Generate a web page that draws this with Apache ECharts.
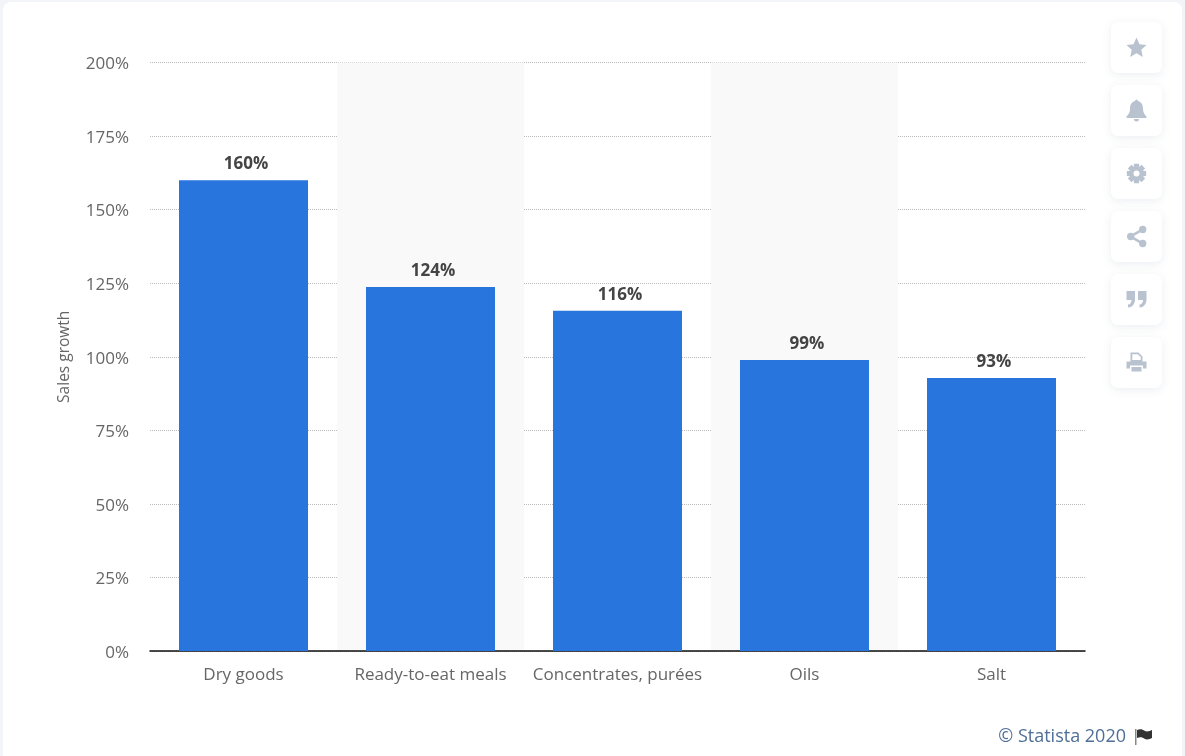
<!DOCTYPE html>
<html>
<head>
<meta charset="utf-8">
<style>
  html, body { margin: 0; padding: 0; background: #f3f4f8; }
  #card { position: absolute; left: 3px; top: 2px; width: 1179px; height: 780px; background: #fff; border-radius: 8px; }
  #main { position: absolute; left: 0; top: 0; width: 1185px; height: 756px; }
</style>
<script src="https://cdn.jsdelivr.net/npm/echarts@6/dist/echarts.min.js"></script>
</head>
<body>
<div id="card"></div>
<div id="main"></div>
<script>
const categories = ["Dry goods", "Ready-to-eat meals", "Concentrates, purées", "Oils", "Salt"];
const salesGrowth = [160, 123.7, 115.6, 98.9, 92.8];
const axisTitle = "Sales growth";
const creditText = "© Statista 2020";

const fontName = "'Open Sans', sans-serif";
const iconColor = "#b9c3d0";

function gearPath() {
  // 8 tooth gear, outline only
  let d = "";
  const teeth = 8;
  for (let i = 0; i < teeth; i++) {
    const a = (i * 2 * Math.PI) / teeth;
    const pts = [[-6.8, -0.42], [-10, -0.26], [-10, 0.26], [-6.8, 0.42]];
    pts.forEach(function (p, j) {
      const r = -p[0];
      const x = r * Math.cos(a + p[1]);
      const y = r * Math.sin(a + p[1]);
      d += (i === 0 && j === 0 ? "M" : "L") + x.toFixed(2) + "," + y.toFixed(2);
    });
  }
  return d + "Z";
}

const icons = [
  "M0,-10 L3,-3.2 L10,-2.6 L4.8,2.2 L6.3,9.5 L0,5.8 L-6.3,9.5 L-4.8,2.2 L-10,-2.6 L-3,-3.2Z",
  "M-1.5,-9.5 A1.5,1.5 0 0 1 1.5,-9.5 C5,-8.5 6.5,-5.5 6.5,-2 C6.5,2 8,4 10,6 L10,7.5 L-10,7.5 L-10,6 C-8,4 -6.5,2 -6.5,-2 C-6.5,-5.5 -5,-8.5 -1.5,-9.5Z M-2.5,8.5 L2.5,8.5 A2.5,2.5 0 0 1 -2.5,8.5Z",
  gearPath(),
  "M-6,-1.5 L6,-8.5 L6,-5.5 L-6,1.5Z M-6,-1.5 L6,5.5 L6,8.5 L-6,1.5Z M-9.5,0 A3.7,3.7 0 1 1 -2.1,0 A3.7,3.7 0 1 1 -9.5,0Z M2.5,-7 A3.7,3.7 0 1 1 9.9,-7 A3.7,3.7 0 1 1 2.5,-7Z M2.5,7 A3.7,3.7 0 1 1 9.9,7 A3.7,3.7 0 1 1 2.5,7Z",
  "M-10,-8.5 L-1.5,-8.5 L-1.5,0 C-1.5,4.5 -4.5,8 -8.5,8 L-8.5,5 C-6.5,5 -5,3 -5,0.5 L-10,0.5Z M1.5,-8.5 L10,-8.5 L10,0 C10,4.5 7,8 3,8 L3,5 C5,5 6.5,3 6.5,0.5 L1.5,0.5Z",
  "M-6,-10 L2,-10 L6,-6 L6,-1 L-6,-1Z M-4.2,-8.2 L-4.2,-2.5 L4.2,-2.5 L4.2,-5.5 L1.2,-8.2Z M-10,-1 L10,-1 L10,6 L6.5,6 L6.5,3 L-6.5,3 L-6.5,6 L-10,6Z M-5,4.5 L5,4.5 L5,9 L-5,9Z"
];
const buttonTops = [22, 85, 148, 211, 274, 337];

// graphic has no plain path type, so each icon is registered as a shape
icons.forEach(function (d, i) {
  echarts.graphic.registerShape("icon" + i, echarts.graphic.extendPath(d, {}));
});
echarts.graphic.registerShape("flagIcon", echarts.graphic.extendPath(
  "M0,0 C3,-1 5,-1 8,1 C10,2 13,1 15,0 L15,8 C13,9 10,10 8,9 C5,7 3,7 0,8Z", {}));

const buttons = [];
buttonTops.forEach(function (top, i) {
  buttons.push({
    type: "rect",
    x: 1111, y: top,
    shape: { width: 51, height: 51, r: 7 },
    style: { fill: "#fff", shadowBlur: 10, shadowColor: "rgba(70,90,130,0.10)", shadowOffsetY: 2 }
  });
  buttons.push({
    type: "icon" + i,
    x: 1136.5, y: top + 25.5,
    style: { fill: iconColor }
  });
  if (i === 2) {
    buttons.push({
      type: "circle",
      x: 1136.5, y: top + 25.5,
      shape: { r: 3 },
      style: { fill: "#fff" }
    });
  }
});

const chart = echarts.init(document.getElementById("main"), null, { renderer: "canvas" });
chart.setOption({
  backgroundColor: "transparent",
  animation: false,
  textStyle: { fontFamily: fontName },
  grid: { left: 150, right: 100, top: 62.5, bottom: 105, containLabel: false },
  xAxis: {
    type: "category",
    data: categories,
    axisLine: { show: true, lineStyle: { color: "#111", width: 1.5 } },
    axisTick: { show: false },
    axisLabel: { color: "#666", fontSize: 17, margin: 16, interval: 0, fontFamily: fontName },
    splitArea: { show: true, interval: 0, areaStyle: { color: ["rgba(255,255,255,0)", "#f9f9f9"] } }
  },
  yAxis: {
    type: "value",
    min: 0,
    max: 200,
    interval: 25,
    name: axisTitle,
    nameLocation: "middle",
    nameGap: 77,
    nameTextStyle: { color: "#666", fontSize: 15.5, fontFamily: fontName },
    axisLine: { show: false },
    axisTick: { show: false },
    axisLabel: {
      margin: 21,
      formatter: "{v|{value}%}",
      rich: { v: { color: "#666", fontSize: 17, fontFamily: fontName, padding: [4, 0, 0, 0] } }
    },
    splitLine: { show: true, lineStyle: { color: "#bbb", type: "dotted", width: 1 } }
  },
  series: [
    {
      type: "bar",
      data: salesGrowth,
      barWidth: 129,
      itemStyle: { color: "#2875de" },
      label: {
        show: true,
        position: "top",
        distance: 7.5,
        offset: [2.5, 0],
        color: "#444",
        fontSize: 17,
        fontWeight: "bold",
        fontFamily: fontName,
        formatter: function (p) { return Math.round(p.value) + "%"; }
      }
    }
  ],
  graphic: buttons.concat([
    {
      type: "text",
      x: 1126, y: 737,
      style: { text: creditText, fill: "#4f6f97", font: "18px " + fontName, textAlign: "right", textVerticalAlign: "middle" }
    },
    {
      type: "rect",
      x: 1135, y: 729,
      shape: { width: 1.5, height: 16 },
      style: { fill: "#888" }
    },
    {
      type: "flagIcon",
      x: 1137, y: 730,
      style: { fill: "#333" }
    }
  ])
});
</script>
</body>
</html>
